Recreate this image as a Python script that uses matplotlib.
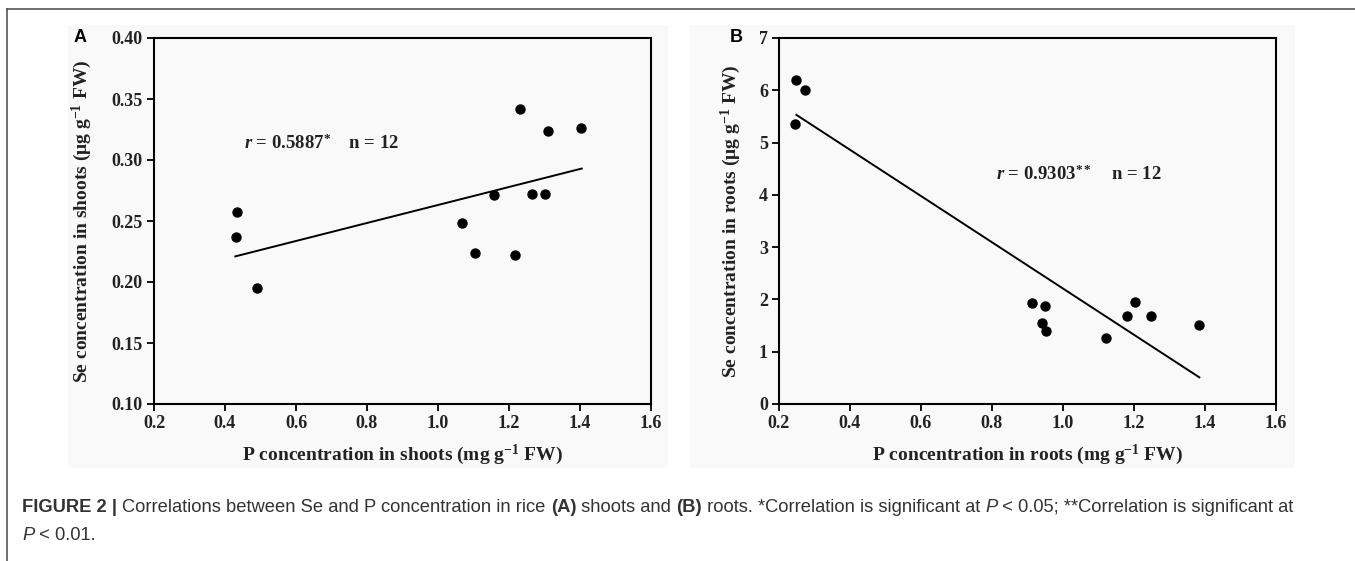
import numpy as np
import matplotlib

matplotlib.use("Agg")
from matplotlib import pyplot
from matplotlib.patches import Rectangle
from matplotlib.lines import Line2D

# panel A: shoots
shoot_p = [0.432, 0.435, 0.489, 1.069, 1.104, 1.157, 1.218, 1.230, 1.266, 1.301, 1.310, 1.404]
shoot_se = [0.237, 0.257, 0.195, 0.248, 0.224, 0.271, 0.222, 0.342, 0.272, 0.272, 0.324, 0.326]
shoot_fit_x = [0.429, 1.405]
shoot_fit_y = [0.221, 0.293]

# panel B: roots
root_p = [0.247, 0.246, 0.273, 0.912, 0.942, 0.950, 0.952, 1.122, 1.180, 1.202, 1.247, 1.384]
root_se = [6.20, 5.36, 6.01, 1.94, 1.55, 1.88, 1.39, 1.26, 1.68, 1.96, 1.68, 1.52]
root_fit_x = [0.249, 1.384]
root_fit_y = [5.53, 0.51]

x_ticks = [0.2, 0.4, 0.6, 0.8, 1.0, 1.2, 1.4, 1.6]
shoot_y_ticks = [0.10, 0.15, 0.20, 0.25, 0.30, 0.35, 0.40]
root_y_ticks = [0, 1, 2, 3, 4, 5, 6, 7]

pyplot.rcParams["font.family"] = "Liberation Serif"
pyplot.rcParams["font.weight"] = "bold"
pyplot.rcParams["axes.labelweight"] = "bold"
pyplot.rcParams["mathtext.fontset"] = "custom"
pyplot.rcParams["mathtext.rm"] = "Liberation Serif:bold"
pyplot.rcParams["mathtext.bf"] = "Liberation Serif:bold"
pyplot.rcParams["mathtext.it"] = "Liberation Serif:italic:bold"
pyplot.rcParams["mathtext.default"] = "bf"

W, H = 1355, 561
figure = pyplot.figure(figsize=(W / 100, H / 100), dpi=100)
figure.patch.set_facecolor("white")

# faint grey backgrounds of the pasted chart images
for x0, x1 in [(68, 668), (690, 1295)]:
    figure.patches.append(Rectangle((x0 / W, 1 - 468 / H), (x1 - x0) / W, (468 - 25) / H,
                                    transform=figure.transFigure, facecolor="#f9f9f9",
                                    edgecolor="none", zorder=-5))

# frame lines (top and left)
figure.lines.append(Line2D([7 / W, 1], [1 - 9 / H, 1 - 9 / H], transform=figure.transFigure,
                           color="#555555", lw=1.2))
figure.lines.append(Line2D([7 / W, 7 / W], [0, 1 - 9 / H], transform=figure.transFigure,
                           color="#555555", lw=1.2))


def make_panel(left, xs, ys, fit_x, fit_y, yticks, ylim, yfmt, ylabel, xlabel, note, note_xy,
               letter, letter_x, ylabel_x):
    axis = figure.add_axes([left / W, 1 - 404 / H, 497 / W, 366 / H])
    axis.set_facecolor("none")
    axis.scatter(xs, ys, s=42, color="black", zorder=3)
    axis.plot(fit_x, fit_y, color="black", lw=1.4)
    axis.set_xlim(0.2, 1.6)
    axis.set_ylim(*ylim)
    axis.set_xticks(x_ticks)
    axis.set_xticklabels([f"{t:.1f}" for t in x_ticks])
    axis.set_yticks(yticks)
    axis.set_yticklabels([yfmt.format(t) for t in yticks])
    axis.tick_params(direction="out", length=5, width=1.3, labelsize=13, pad=3,
                     labelcolor="#222222")
    for spine in axis.spines.values():
        spine.set_linewidth(1.5)
    axis.set_xlabel(xlabel, fontsize=14, color="#222222")
    axis.xaxis.set_label_coords(0.5, -0.14)
    axis.xaxis.label.set_va("center")
    axis.set_ylabel(ylabel, fontsize=14, color="#222222")
    axis.yaxis.set_label_coords(ylabel_x, 0.5)
    axis.yaxis.label.set_va("center")
    axis.text(note_xy[0], note_xy[1], note, fontsize=13.5, va="center", ha="left",
              color="#222222")
    figure.text(letter_x / W, 1 - 38 / H, letter, fontsize=13, fontweight="bold",
                family="Liberation Sans", ha="left", va="center")
    return axis


make_panel(154, shoot_p, shoot_se, shoot_fit_x, shoot_fit_y, shoot_y_ticks, (0.10, 0.40),
           "{:.2f}", r"Se concentration in shoots (μg g$^{-1}$ FW)",
           r"P concentration in shoots (mg g$^{-1}$ FW)",
           r"$\mathit{r}$ = 0.5887$^{*}$    n = 12", (0.454, 0.3135), "A", 74, -0.145)
make_panel(779, root_p, root_se, root_fit_x, root_fit_y, root_y_ticks, (0, 7),
           "{:d}", r"Se concentration in roots (μg g$^{-1}$ FW)",
           r"P concentration in roots (mg g$^{-1}$ FW)",
           r"$\mathit{r}$ = 0.9303$^{**}$    n = 12", (0.811, 4.40), "B", 730, -0.096)

# caption, drawn piece by piece
renderer = figure.canvas.get_renderer()
caption_lines = [
    [("FIGURE 2 | ", "bold", "normal"),
     ("Correlations between Se and P concentration in rice ", "normal", "normal"),
     ("(A)", "bold", "normal"), (" shoots and ", "normal", "normal"),
     ("(B)", "bold", "normal"),
     (" roots. *Correlation is significant at ", "normal", "normal"),
     ("P", "normal", "italic"), (" < 0.05; **Correlation is significant at", "normal", "normal")],
    [("P", "normal", "italic"), (" < 0.01.", "normal", "normal")],
]
for row, pieces in enumerate(caption_lines):
    x = 22
    y = 508 + row * 28
    for text, weight, style in pieces:
        item = figure.text(x / W, 1 - y / H, text, fontsize=13.2, family="Liberation Sans",
                           fontweight=weight, fontstyle=style, color="#333333",
                           ha="left", va="center")
        x += item.get_window_extent(renderer).width

figure.savefig("out.png", dpi=100)
